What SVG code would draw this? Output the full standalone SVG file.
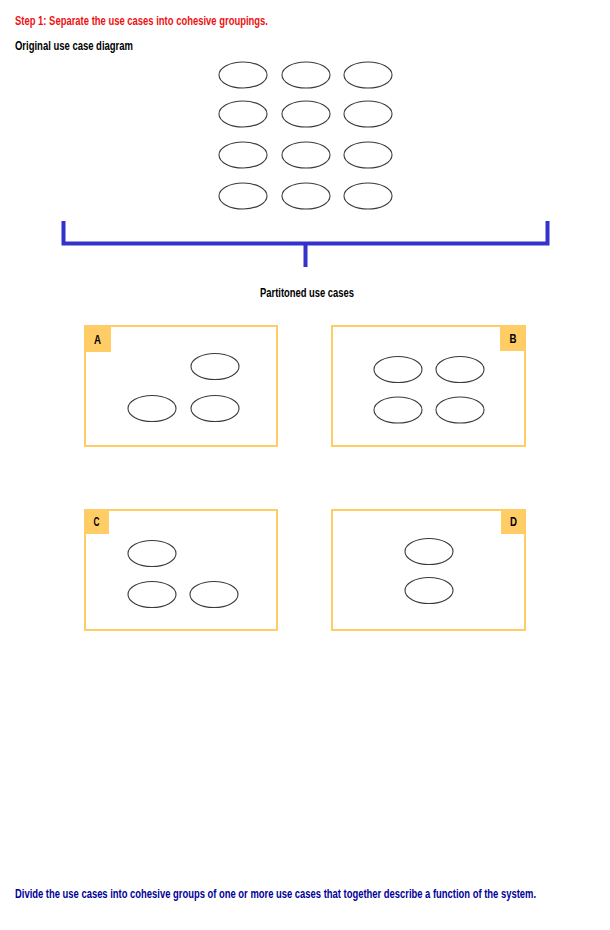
<svg xmlns="http://www.w3.org/2000/svg" width="610" height="930" viewBox="0 0 610 930">
<style>
text{font-family:"Liberation Sans Narrow","Liberation Sans",Arial,sans-serif;font-weight:bold}
.uc{fill:#fff;stroke:#3a3a3a;stroke-width:1.1}
.box{fill:#fff;stroke:#ffcc66;stroke-width:2}
.tab{fill:#ffcc66}
.lbl{font-size:13px;fill:#000;text-anchor:middle}
.br{fill:none;stroke:#3333cc;stroke-width:4}
</style>
<rect width="610" height="930" fill="#fff"/>
<text x="15" y="25" font-size="12" fill="#ee1111" textLength="253" lengthAdjust="spacingAndGlyphs">Step 1:  Separate the use cases into cohesive groupings.</text>
<text x="15" y="50" font-size="12" fill="#000" textLength="118" lengthAdjust="spacingAndGlyphs">Original use case diagram</text>
<g id="original">
<ellipse class="uc" cx="243" cy="75" rx="24" ry="13"/><ellipse class="uc" cx="306" cy="75" rx="24" ry="13"/><ellipse class="uc" cx="368" cy="75" rx="24" ry="13"/>
<ellipse class="uc" cx="243" cy="114" rx="24" ry="13"/><ellipse class="uc" cx="306" cy="114" rx="24" ry="13"/><ellipse class="uc" cx="368" cy="114" rx="24" ry="13"/>
<ellipse class="uc" cx="243" cy="155" rx="24" ry="13"/><ellipse class="uc" cx="306" cy="155" rx="24" ry="13"/><ellipse class="uc" cx="368" cy="155" rx="24" ry="13"/>
<ellipse class="uc" cx="243" cy="196" rx="24" ry="13"/><ellipse class="uc" cx="306" cy="196" rx="24" ry="13"/><ellipse class="uc" cx="368" cy="196" rx="24" ry="13"/>
</g>
<g id="connectors">
<path class="br" d="M63.5 221V243.5H547.5V221M305.5 243.5V267"/>
</g>
<text x="260" y="297" font-size="12" fill="#000" textLength="94" lengthAdjust="spacingAndGlyphs">Partitoned use cases</text>
<g id="A">
<rect class="box" x="85" y="326" width="192" height="120"/>
<rect class="tab" x="84" y="325" width="27" height="27"/>
<text class="lbl" x="97.5" y="344" textLength="7" lengthAdjust="spacingAndGlyphs">A</text>
<ellipse class="uc" cx="215" cy="366.5" rx="24" ry="13"/>
<ellipse class="uc" cx="152" cy="408.5" rx="24" ry="13"/>
<ellipse class="uc" cx="215" cy="408.5" rx="24" ry="13"/>
</g>
<g id="B">
<rect class="box" x="332" y="326" width="193" height="120"/>
<rect class="tab" x="500" y="325" width="26" height="26"/>
<text class="lbl" x="513" y="343" textLength="7" lengthAdjust="spacingAndGlyphs">B</text>
<ellipse class="uc" cx="398" cy="369.5" rx="24" ry="13"/>
<ellipse class="uc" cx="460" cy="369.5" rx="24" ry="13"/>
<ellipse class="uc" cx="398" cy="410" rx="24" ry="13"/>
<ellipse class="uc" cx="460" cy="410" rx="24" ry="13"/>
</g>
<g id="C">
<rect class="box" x="85" y="510" width="192" height="120"/>
<rect class="tab" x="84" y="509" width="25" height="25"/>
<text class="lbl" x="96.5" y="526" textLength="6" lengthAdjust="spacingAndGlyphs">C</text>
<ellipse class="uc" cx="152" cy="553.5" rx="24" ry="13"/>
<ellipse class="uc" cx="152" cy="594.5" rx="24" ry="13"/>
<ellipse class="uc" cx="214" cy="594.5" rx="24" ry="13"/>
</g>
<g id="D">
<rect class="box" x="332" y="510" width="193" height="120"/>
<rect class="tab" x="501" y="509" width="25" height="25"/>
<text class="lbl" x="513.5" y="526" textLength="7" lengthAdjust="spacingAndGlyphs">D</text>
<ellipse class="uc" cx="429" cy="551.5" rx="24" ry="13"/>
<ellipse class="uc" cx="429" cy="590.5" rx="24" ry="13"/>
</g>
<text x="15" y="898" font-size="12" fill="#000099" textLength="521" lengthAdjust="spacingAndGlyphs">Divide the use cases into cohesive groups of one or more use cases that together describe a function of the system.</text>
</svg>
